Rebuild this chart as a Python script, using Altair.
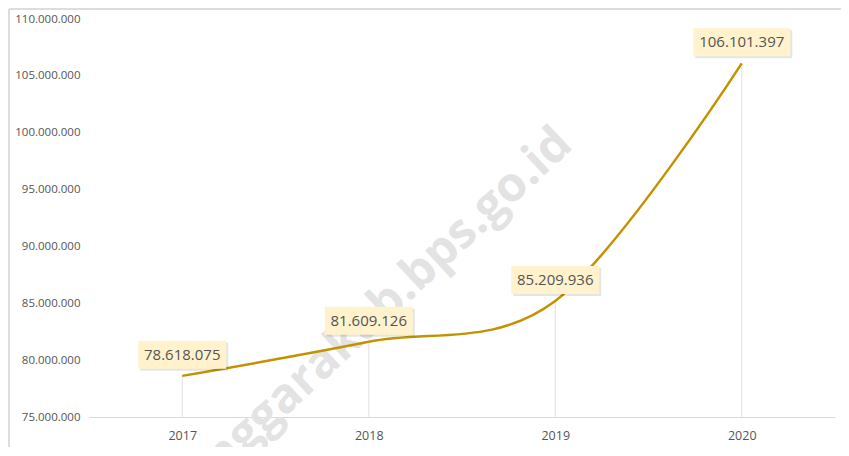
import altair as alt
import pandas as pd

years = ["2017", "2018", "2019", "2020"]
values = [78618075, 81609126, 85209936, 106101397]
y_ticks = [75000000, 80000000, 85000000, 90000000, 95000000, 100000000, 105000000, 110000000]
watermark = "tenggarakab.bps.go.id"

labels = [f"{v:,}".replace(",", ".") for v in values]
df = pd.DataFrame({"Year": years, "Value": values, "Label": labels})

W, H = 746, 398
base_val = 75000000

x_enc = alt.X("Year:N", scale=alt.Scale(type="point", padding=0.5),
              axis=alt.Axis(title=None, labelAngle=0, ticks=False, domainColor="#d9d9d9",
                            labelColor="#555555", labelFontSize=12.5, labelFont="Open Sans",
                            labelPadding=12, grid=False))
y_scale = alt.Scale(domain=[75000000, 110000000], nice=False, zero=False)
y_enc = alt.Y("Value:Q", scale=y_scale,
              axis=alt.Axis(title=None, values=y_ticks, ticks=False, domain=False, grid=False,
                            labelColor="#555555", labelFontSize=11.5, labelFont="Open Sans",
                            labelPadding=9,
                            labelExpr="replace(format(datum.value, ',d'), regexp(',', 'g'), '.')"))

base = alt.Chart(df)

frame = alt.Chart(df).mark_rule(color="#dddddd", strokeWidth=1.5).encode(
    x=alt.value(-80), x2=alt.value(W + 6), y=alt.value(-10)
)
frame_left = alt.Chart(df).mark_rule(color="#dddddd", strokeWidth=1.5).encode(
    x=alt.value(-80), y=alt.value(-10), y2=alt.value(H + 30)
)

wm = alt.Chart(df).transform_filter("datum.Year == '2017'").mark_text(
    text=watermark, angle=317, align="right", baseline="middle", font="Open Sans",
    fontWeight="bold", fontSize=48, color="#e3e3e3"
).encode(x=alt.value(476), y=alt.value(118))

drops = base.mark_rule(color="#e2e2e2", strokeWidth=1).encode(
    x=x_enc, y=y_enc, y2=alt.datum(base_val)
)

line = base.mark_line(color="#c39200", strokeWidth=2.5, interpolate="cardinal").encode(
    x=x_enc, y=y_enc
)

box_calc = base.transform_calculate(
    w="9*length(datum.Label)-2",
).transform_calculate(
    shp="'M-1,-' + (28/datum.w) + 'H1V' + (28/datum.w) + 'H-1Z'",
    sz="datum.w*datum.w",
)

shadow = box_calc.mark_point(filled=True, color="#000000", opacity=0.10, xOffset=2, yOffset=-19).encode(
    x=x_enc, y=y_enc,
    shape=alt.Shape("shp:N", scale=None, legend=None),
    size=alt.Size("sz:Q", scale=None, legend=None),
)
boxes = box_calc.mark_point(filled=True, color="#fff2cc", opacity=1, yOffset=-21).encode(
    x=x_enc, y=y_enc,
    shape=alt.Shape("shp:N", scale=None, legend=None),
    size=alt.Size("sz:Q", scale=None, legend=None),
)
texts = base.mark_text(font="Open Sans", fontSize=15, color="#555555", baseline="middle",
                       yOffset=-21).encode(x=x_enc, y=y_enc, text="Label:N")

chart = alt.layer(frame, frame_left, wm, drops, line, shadow, boxes, texts).properties(
    width=W, height=H,
    autosize=alt.AutoSizeParams(type="none"),
    padding={"left": 81, "top": 11, "right": 6, "bottom": 30},
).configure(background="white").configure_view(stroke=None, strokeWidth=0)

chart.save("out.html", embed_options={"renderer": "svg", "actions": False})
